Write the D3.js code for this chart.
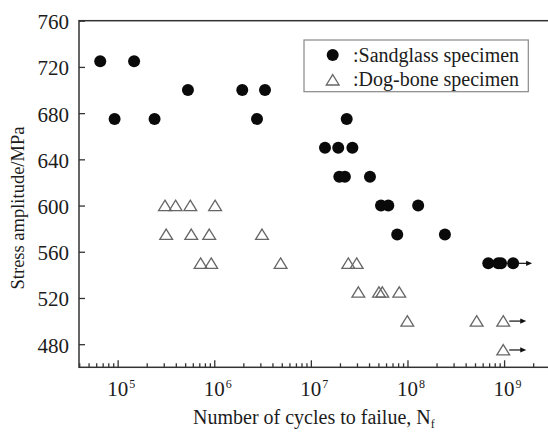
<!DOCTYPE html>
<html>
<head>
<meta charset="utf-8">
<script src="https://cdn.jsdelivr.net/npm/d3@7"></script>
<style>
  html, body { margin: 0; padding: 0; background: #fff; }
  svg { display: block; }
</style>
</head>
<body>
<svg id="chart" width="548" height="432"></svg>
<script>
// S-N data: sandglass specimens
const sandCycles = [6.6e4, 1.48e5, 9.3e4, 2.41e5, 5.34e5, 1.95e6, 3.35e6, 2.77e6,
  2.35e7, 1.4e7, 1.92e7, 2.69e7, 1.97e7, 2.25e7, 4.09e7, 5.32e7, 6.33e7, 1.29e8,
  7.83e7, 2.44e8, 6.86e8, 8.7e8, 9.3e8, 1.24e9];
const sandStress = [725, 725, 675, 675, 700, 700, 700, 675,
  675, 650, 650, 650, 625, 625, 625, 600, 600, 600,
  575, 575, 550, 550, 550, 550];
const sandRunout = [0, 0, 0, 0, 0, 0, 0, 0,
  0, 0, 0, 0, 0, 0, 0, 0, 0, 0,
  0, 0, 0, 0, 0, 1];

// S-N data: dog-bone specimens
const dogCycles = [3.09e5, 3.98e5, 5.65e5, 1.02e6, 3.18e5, 5.78e5, 8.87e5, 3.12e6,
  7.22e5, 9.3e5, 4.86e6, 2.44e7, 2.98e7, 3.1e7, 5.07e7, 5.49e7, 8.22e7,
  9.96e7, 5.2e8, 9.8e8, 9.8e8];
const dogStress = [600, 600, 600, 600, 575, 575, 575, 575,
  550, 550, 550, 550, 550, 525, 525, 525, 525,
  500, 500, 500, 475];
const dogRunout = [0, 0, 0, 0, 0, 0, 0, 0,
  0, 0, 0, 0, 0, 0, 0, 0, 0,
  0, 0, 1, 1];

const yTicks = [480, 520, 560, 600, 640, 680, 720, 760];
const xDecades = [5, 6, 7, 8, 9];
const legendLabels = [":Sandglass specimen", ":Dog-bone specimen"];

const serif = "'Liberation Serif', 'DejaVu Serif', 'Times New Roman', Times, serif";
const svg = d3.select("#chart").attr("font-family", serif);
const plotLeft = 79, plotTop = 20.7, plotBottom = 367.3, plotRight = 552.4;

const x = d3.scaleLog().domain([Math.pow(10, 4.6), Math.pow(10, 9.5)]).range([plotLeft, plotRight]);
const y = d3.scaleLinear().domain([460, 760]).range([plotBottom, plotTop]);

const axisColor = "#333";
const textColor = "#1c1c1c";

// frame
svg.append("rect")
  .attr("x", plotLeft).attr("y", plotTop)
  .attr("width", plotRight - plotLeft).attr("height", plotBottom - plotTop)
  .attr("fill", "none").attr("stroke", axisColor).attr("stroke-width", 1.5);

// y axis: ticks point inward
const yAxis = d3.axisRight(y).tickValues(yTicks).tickSize(6).tickFormat("");
const gy = svg.append("g").attr("transform", `translate(${plotLeft},0)`).call(yAxis);
gy.select(".domain").remove();
gy.selectAll("line").attr("stroke", axisColor).attr("stroke-width", 1.3);

svg.append("g").selectAll("text").data(yTicks).join("text")
  .attr("x", 69).attr("y", d => y(d)).attr("dy", "0.4em")
  .attr("text-anchor", "end").attr("font-size", 21).attr("fill", textColor)
  .attr("font-family", serif)
  .text(d => d);

// x axis: major decade ticks and minor ticks, all inward
const minorVals = [];
for (let e = 4; e <= 9; e++) {
  for (let m = 2; m <= 9; m++) {
    const v = m * Math.pow(10, e);
    if (v >= x.domain()[0] && v <= x.domain()[1]) minorVals.push(v);
  }
}
const majorVals = xDecades.map(e => Math.pow(10, e));

const gxMinor = svg.append("g").attr("transform", `translate(0,${plotBottom})`)
  .call(d3.axisTop(x).tickValues(minorVals).tickSize(4).tickFormat(""));
const gxMajor = svg.append("g").attr("transform", `translate(0,${plotBottom})`)
  .call(d3.axisTop(x).tickValues(majorVals).tickSize(7).tickFormat(""));
[gxMinor, gxMajor].forEach(g => {
  g.select(".domain").remove();
  g.selectAll("line").attr("stroke", axisColor).attr("stroke-width", 1.3);
});

// decade labels as 10 with superscript exponent
const xl = svg.append("g").selectAll("g").data(xDecades).join("g")
  .attr("transform", d => `translate(${x(Math.pow(10, d))},0)`);
xl.append("text").attr("x", 0).attr("y", 396)
  .attr("text-anchor", "middle").attr("font-size", 21).attr("fill", textColor)
  .attr("font-family", serif)
  .text("10");
xl.append("text").attr("x", 11.5).attr("y", 388)
  .attr("font-size", 12).attr("fill", textColor)
  .attr("font-family", serif)
  .text(d => d);

// axis titles
const xt = svg.append("text").attr("x", 193).attr("y", 424)
  .attr("font-size", 20).attr("fill", textColor).attr("font-family", serif);
xt.append("tspan").text("Number of cycles to failue, N");
xt.append("tspan").attr("dy", 4).attr("font-size", 12).text("f");

svg.append("text")
  .attr("transform", "translate(24,208) rotate(-90)")
  .attr("text-anchor", "middle").attr("font-size", 18.5).attr("fill", textColor)
  .attr("font-family", serif)
  .text("Stress amplitude/MPa");

// markers
const triPath = "M0,-5.4L6.4,5L-6.4,5Z";
const arrowHead = "M0,0L-6,-2.6L-6,2.6Z";

const sand = sandCycles.map((c, i) => ({c, s: sandStress[i], r: sandRunout[i]}));
const dog = dogCycles.map((c, i) => ({c, s: dogStress[i], r: dogRunout[i]}));

// run-out arrows
function drawArrows(data, startOff, tipOff) {
  const g = svg.append("g");
  data.filter(d => d.r).forEach(d => {
    const cx = x(d.c), cy = y(d.s);
    g.append("line")
      .attr("x1", cx + startOff).attr("x2", cx + tipOff - 4)
      .attr("y1", cy).attr("y2", cy)
      .attr("stroke", "#111").attr("stroke-width", 1.2);
    g.append("path").attr("d", arrowHead)
      .attr("transform", `translate(${cx + tipOff},${cy})`)
      .attr("fill", "#111");
  });
}

svg.append("g").selectAll("path").data(dog).join("path")
  .attr("d", triPath)
  .attr("transform", d => `translate(${x(d.c)},${y(d.s)})`)
  .attr("fill", "none")
  .attr("stroke", "#666").attr("stroke-width", 1.3);
drawArrows(dog, 6, 23);

svg.append("g").selectAll("circle").data(sand).join("circle")
  .attr("cx", d => x(d.c)).attr("cy", d => y(d.s))
  .attr("r", 6).attr("fill", "#0a0a0a");
drawArrows(sand, 5, 19);

// legend
const lg = svg.append("g");
lg.append("rect").attr("x", 304).attr("y", 40).attr("width", 224.3).attr("height", 51.7)
  .attr("fill", "#fff").attr("stroke", "#888").attr("stroke-width", 1.2);
lg.append("circle").attr("cx", 332.7).attr("cy", 55).attr("r", 6).attr("fill", "#0a0a0a");
lg.append("path").attr("d", triPath).attr("transform", "translate(332.7,80)")
  .attr("fill", "none").attr("stroke", "#666").attr("stroke-width", 1.3);
lg.selectAll("text").data(legendLabels).join("text")
  .attr("x", 353).attr("y", (d, i) => 61.5 + i * 24.5)
  .attr("font-size", 20).attr("fill", textColor)
  .attr("font-family", serif)
  .text(d => d);
</script>
</body>
</html>
